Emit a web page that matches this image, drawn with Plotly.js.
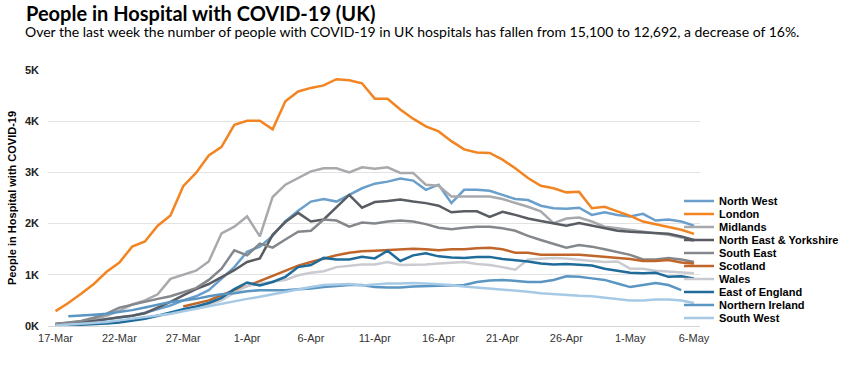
<!DOCTYPE html>
<html><head><meta charset="utf-8">
<script src="https://cdn.plot.ly/plotly-3.0.1.min.js"></script>
<style>html,body{margin:0;padding:0;background:#fff}#chart{width:859px;height:370px}</style>
</head><body><div id="chart"></div>
<script>
const dates = ['2020-03-17','2020-03-18','2020-03-19','2020-03-20','2020-03-21','2020-03-22','2020-03-23','2020-03-24','2020-03-25','2020-03-26','2020-03-27','2020-03-28','2020-03-29','2020-03-30','2020-03-31',
'2020-04-01','2020-04-02','2020-04-03','2020-04-04','2020-04-05','2020-04-06','2020-04-07','2020-04-08','2020-04-09','2020-04-10','2020-04-11','2020-04-12','2020-04-13','2020-04-14','2020-04-15','2020-04-16','2020-04-17','2020-04-18','2020-04-19','2020-04-20','2020-04-21','2020-04-22','2020-04-23','2020-04-24','2020-04-25','2020-04-26','2020-04-27','2020-04-28','2020-04-29','2020-04-30',
'2020-05-01','2020-05-02','2020-05-03','2020-05-04','2020-05-05','2020-05-06'];
const tickDates = ['2020-03-17','2020-03-22','2020-03-27','2020-04-01','2020-04-06','2020-04-11','2020-04-16','2020-04-21','2020-04-26','2020-05-01','2020-05-06'];
const tickLabels = ['17-Mar','22-Mar','27-Mar','1-Apr','6-Apr','11-Apr','16-Apr','21-Apr','26-Apr','1-May','6-May'];
const yTickVals = [0,1000,2000,3000,4000,5000];
const yTickLabels = ['0K','1K','2K','3K','4K','5K'];

const northWest = [30,50,70,100,130,170,200,260,330,400,500,580,700,920,1150,1450,1550,1760,2050,2250,2430,2480,2430,2560,2690,2780,2820,2880,2840,2660,2760,2400,2660,2660,2640,2560,2480,2460,2350,2300,2290,2310,2170,2220,2170,2140,2190,2060,2080,2040,1960];
const london = [290,450,630,820,1060,1240,1550,1650,1960,2160,2730,2990,3330,3500,3930,4010,4010,3840,4390,4580,4650,4700,4820,4800,4740,4440,4440,4230,4050,3900,3800,3610,3450,3390,3380,3250,3080,2890,2740,2690,2610,2620,2300,2330,2240,2150,2040,1990,1930,1880,1800];
const midlands = [40,60,90,130,200,300,420,500,620,920,1000,1080,1260,1810,1940,2140,1750,2520,2760,2890,3020,3080,3080,3000,3100,3070,3100,2990,2990,2760,2740,2530,2530,2540,2530,2480,2410,2330,2240,2010,2100,2120,2040,1940,1910,1880,1840,1810,1780,1730,1660];
const neYorkshire = [40,50,70,100,140,170,200,250,360,470,600,720,820,960,1090,1250,1320,1780,2030,2210,2040,2080,2330,2560,2310,2420,2440,2470,2430,2400,2350,2220,2240,2240,2130,2230,2170,2100,2050,2010,1960,2010,1960,1900,1860,1840,1830,1810,1800,1750,1680];
const southEast = [40,70,100,160,240,360,420,470,530,580,660,740,900,1120,1480,1380,1610,1530,1690,1840,1860,2080,2060,1940,2020,2000,2040,2060,2040,1990,1920,1890,1920,1940,1940,1910,1860,1760,1680,1610,1530,1580,1550,1500,1450,1390,1300,1300,1330,1300,1250];
const scotland = [null,null,null,null,null,null,null,null,null,null,380,440,500,600,700,780,880,990,1080,1180,1250,1320,1380,1430,1460,1470,1480,1500,1510,1500,1480,1500,1500,1520,1530,1500,1430,1430,1390,1390,1390,1390,1370,1350,1340,1310,1270,1270,1290,1240,1220];
const wales = [10,20,30,50,70,90,120,150,190,240,300,360,420,500,650,780,830,870,900,990,1040,1070,1150,1170,1200,1200,1250,1190,1190,1200,1220,1230,1250,1210,1190,1150,1100,1300,1320,1330,1320,1290,1270,1250,1260,1120,1120,1080,1060,1050,1030];
const eastOfEngland = [0,10,20,40,50,70,100,140,200,270,330,380,450,550,720,850,790,860,960,1150,1190,1330,1300,1300,1350,1320,1470,1270,1380,1420,1360,1340,1330,1350,1350,1310,1290,1260,1220,1200,1210,1200,1180,1120,1080,1040,1030,1040,960,970,930];
const northernIreland = [null,190,200,220,240,270,310,360,410,470,500,530,580,620,640,680,700,700,700,720,730,760,780,800,800,760,750,750,770,780,790,790,800,860,890,900,880,860,860,900,970,960,930,900,830,760,800,840,800,700,null];
const southWest = [10,25,40,60,80,110,140,170,200,240,290,340,390,440,480,530,570,620,670,720,760,800,810,820,790,810,830,830,840,830,820,800,770,750,730,720,700,670,640,620,600,590,580,550,530,500,500,520,520,500,450];

const seriesNames = ['North West','London','Midlands','North East & Yorkshire','South East','Scotland','Wales','East of England','Northern Ireland','South West'];
const seriesValues = [northWest,london,midlands,neYorkshire,southEast,scotland,wales,eastOfEngland,northernIreland,southWest];
const seriesColors = ['#6a9fcb','#f28522','#a8a9ad','#595d63','#84878b','#c0662a','#c9cbd0','#1f6b9a','#5b95c2','#a6c9e5'];

const titleText = '<b>People in Hospital with COVID-19 (UK)</b>';
const subtitleText = 'Over the last week the number of people with COVID-19 in UK hospitals has fallen from 15,100 to 12,692, a decrease of 16%.';

const W = 859, H = 370;
const legendTextX = 719, legendTop = 201, legendStep = 13;

const traces = seriesNames.map((name, i) => ({
  type: 'scatter', mode: 'lines', name: name,
  x: dates, y: seriesValues[i],
  line: {color: seriesColors[i], width: 2.5},
  legend: i === 0 ? 'legend' : 'legend' + (i + 1),
  hoverinfo: 'skip'
}));

const layout = {
  width: W, height: H,
  paper_bgcolor: '#fff', plot_bgcolor: '#fff',
  margin: {l: 48, r: 159, t: 70, b: 44, autoexpand: false},
  title: {
    text: titleText,
    x: 26 / W, xref: 'container', xanchor: 'left',
    y: 1 - 14 / H, yref: 'container', yanchor: 'middle',
    font: {family: 'Lato, sans-serif', size: 20, color: '#000'}
  },
  annotations: [{
    text: subtitleText, showarrow: false,
    xref: 'paper', x: (23 - 48) / 652, xanchor: 'left',
    yref: 'paper', y: (326 - 31) / 256, yanchor: 'middle',
    font: {family: 'Lato, sans-serif', size: 14, color: '#000'}
  }],
  xaxis: {
    type: 'date',
    range: ['2020-03-16 09:50', '2020-05-06 11:15'],
    tickvals: tickDates, ticktext: tickLabels,
    showgrid: false, zeroline: false, showline: false, ticks: '',
    tickfont: {family: 'Liberation Sans, Arial, sans-serif', size: 11, color: '#333'},
    ticklabelstandoff: 4,
    fixedrange: true
  },
  yaxis: {
    range: [0, 5000],
    tickvals: yTickVals, ticktext: yTickLabels,
    showgrid: true, gridcolor: '#e3e3e3', gridwidth: 1,
    zeroline: true, zerolinecolor: '#d6d6d6', zerolinewidth: 1,
    showline: false, ticks: '',
    tickfont: {family: 'Liberation Sans, Arial, sans-serif', size: 11, color: '#222', weight: 700},
    ticklabelstandoff: 8,
    title: {text: 'People in Hospital with COVID-19', standoff: 6,
      font: {family: 'Liberation Sans, Arial, sans-serif', size: 11, color: '#000', weight: 700}},
    automargin: false,
    fixedrange: true
  },
  showlegend: true
};

seriesNames.forEach((name, i) => {
  const key = i === 0 ? 'legend' : 'legend' + (i + 1);
  layout[key] = {
    x: (legendTextX - 40) / W, xref: 'container', xanchor: 'left',
    y: 1 - (legendTop + i * legendStep) / H, yref: 'container', yanchor: 'middle',
    bgcolor: 'rgba(0,0,0,0)', borderwidth: 0,
    itemwidth: 30,
    font: {family: 'Liberation Sans, Arial, sans-serif', size: 11, color: '#000', weight: 700}
  };
});

Plotly.newPlot('chart', traces, layout, {staticPlot: true, displayModeBar: false});
</script>
</body></html>
